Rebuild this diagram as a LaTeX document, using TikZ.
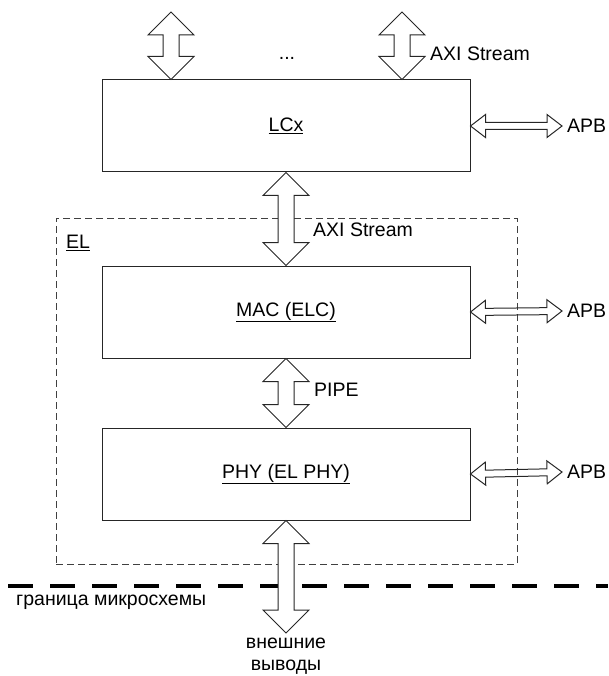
\documentclass[tikz,border=0pt]{standalone}
\usepackage{fontspec}
\setmainfont{Liberation Sans}
\usetikzlibrary{positioning,calc}

\newcommand{\diagfont}{\fontsize{19.5}{22}\selectfont}

\tikzset{
    blockBox/.style={
        rectangle,
        draw=black!85,
        line width=1pt,
        minimum width=368pt,
        minimum height=92pt,
        font=\diagfont
    },
    elFrame/.style={
        rectangle,
        draw=black!75,
        line width=0.9pt,
        dash pattern=on 7pt off 4pt,
        minimum width=461pt,
        minimum height=346pt
    },
    sigLabel/.style={font=\diagfont, inner sep=0pt, anchor=west},
    % hollow double-headed bus arrows
    arrowDims/.code args={#1/#2/#3}{\def\ahLen{#1}\def\ahWid{#2}\def\ahShaft{#3}},
    busArrow/.style={
        draw=black!85, line width=1pt, fill=white, arrowDims={23/23/8},
        to path={
            let \p1=(\tikztostart), \p2=(\tikztotarget),
                \n1={atan2(\y2-\y1,\x2-\x1)}, \n2={veclen(\x2-\x1,\y2-\y1)}
            in [shift={(\p1)}, rotate=\n1]
            (0,0) -- (\ahLen,\ahWid) -- (\ahLen,\ahShaft) -- (\n2-\ahLen,\ahShaft)
            -- (\n2-\ahLen,\ahWid) -- (\n2,0) -- (\n2-\ahLen,-\ahWid)
            -- (\n2-\ahLen,-\ahShaft) -- (\ahLen,-\ahShaft) -- (\ahLen,-\ahWid) -- cycle
        }
    },
    apbArrow/.style={busArrow, arrowDims={15/11.5/3.5}, fill=none}
}

\begin{document}
\begin{tikzpicture}[x=1pt, y=-1pt]
    \useasboundingbox (0,0) rectangle (608,676);

    % EL frame and chip border
    \node[elFrame] (el) at (286.5,391) {};
    \node[sigLabel] (elName) at (66,243) {\underline{EL}};
    \coordinate (edgeL) at (8,586);
    \coordinate (edgeR) at (608,586);
    \draw[line width=3.5pt, dash pattern=on 25pt off 17pt] (edgeL) -- (edgeR);
    \node[sigLabel] (chipEdge) at (16,602) {граница микросхемы};

    % blocks
    \node[blockBox] (lcx) at (286,126) {\underline{LCx}};
    \node[blockBox, below=93pt of lcx] (mac) {\underline{MAC (ELC)}};
    \node[blockBox, below=69pt of mac] (phy) {\underline{PHY (EL PHY)}};

    % labels
    \node[font=\diagfont] (dots) at (287,58) {...};
    \node[sigLabel] (axiTop) at (430,54) {AXI Stream};
    \node[sigLabel] (axiEl) at (313,230) {AXI Stream};
    \node[sigLabel] (pipe) at (314,390) {PIPE};
    \node[sigLabel] (apbLcx) at (567,126) {APB};
    \node[sigLabel] (apbMac) at (567,311) {APB};
    \node[sigLabel] (apbPhy) at (567,472) {APB};
    \node[font=\diagfont, align=center] (pinsLbl) at (286,656) {внешние\\выводы};

    % buses
    \coordinate (busA) at (171,12);
    \coordinate (busB) at (402,12);
    \coordinate (pins) at (286,633);
    \draw[busArrow] (busA) to (lcx.north -| busA);
    \draw[busArrow] (busB) to (lcx.north -| busB);
    \draw[busArrow] (lcx.south) to (mac.north);
    \draw[busArrow] (mac.south) to (phy.north);
    \draw[busArrow] (phy.south) to (pins);

    \draw[apbArrow] (lcx.east) to ([xshift=-5pt]apbLcx.west);
    \draw[apbArrow] (mac.east) to ([xshift=-5pt]apbMac.west);
    \draw[apbArrow] (phy.east) to ([xshift=-5pt]apbPhy.west);
\end{tikzpicture}
\end{document}
